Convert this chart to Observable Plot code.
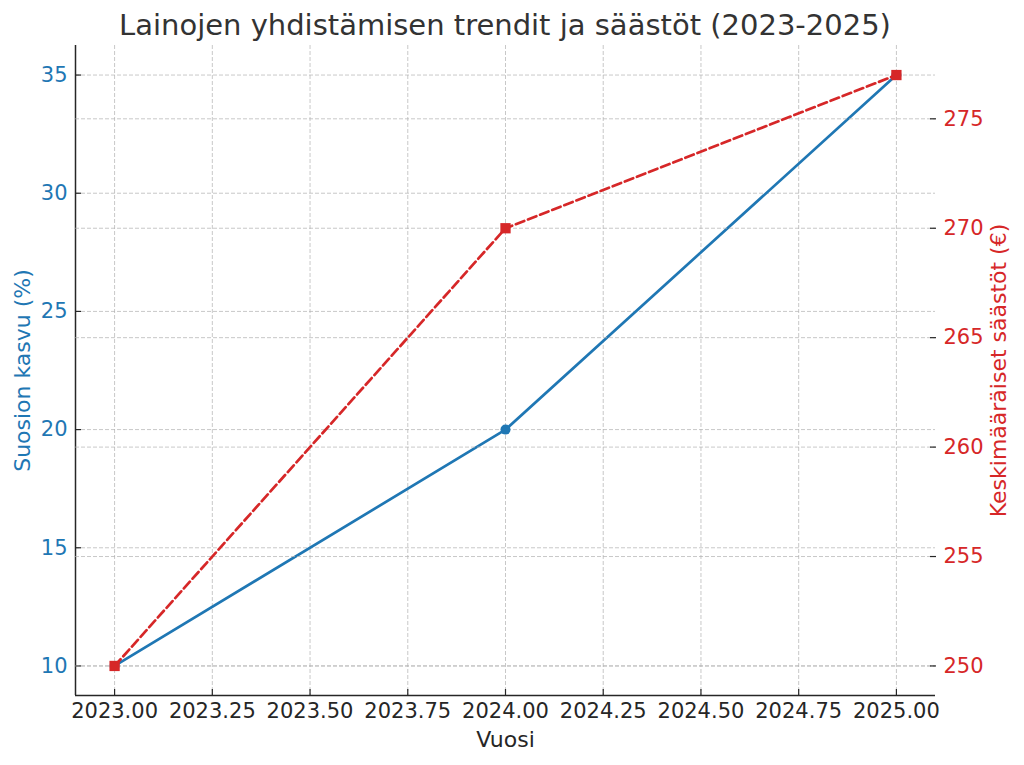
<!DOCTYPE html>
<html>
<head>
<meta charset="utf-8">
<script src="https://cdn.jsdelivr.net/npm/d3@7"></script>
<script src="https://cdn.jsdelivr.net/npm/@observablehq/plot@0.6"></script>
<style>
  html, body { margin: 0; padding: 0; background: #fff; }
  body { width: 1024px; height: 765px; overflow: hidden; font-family: "DejaVu Sans", sans-serif; }
  #title { position: absolute; left: 75px; width: 860px; top: 0; height: 40px; line-height: 51px; text-align: center; font-size: 29px; color: #333; white-space: nowrap; }
  #wrap { position: absolute; left: 0; top: 40px; width: 1024px; height: 725px; }
  #wrap svg { position: absolute; left: 0; top: 0; }
</style>
</head>
<body>
<div id="title">Lainojen yhdistämisen trendit ja säästöt (2023-2025)</div>
<div id="wrap"></div>
<script>
// ---- data ----
const years = [2023, 2024, 2025];
const growth = [10, 20, 35];          // Suosion kasvu (%)
const savings = [250, 270, 277];      // Keskimääräiset säästöt (€)
const xTicks = [2023, 2023.25, 2023.5, 2023.75, 2024, 2024.25, 2024.5, 2024.75, 2025];
const leftTicks = [10, 15, 20, 25, 30, 35];
const rightTicks = [250, 255, 260, 265, 270, 275];

const xLabel = "Vuosi";
const leftLabel = "Suosion kasvu (%)";
const rightLabel = "Keskimääräiset säästöt (€)";

const blue = "#1f77b4", red = "#d62728", ink = "#262626";

const rows = years.map((y, i) => ({year: y, growth: growth[i], savings: savings[i]}));

function pad(arr) {
  const [a, b] = d3.extent(arr);
  const m = (b - a) * 0.05;
  return [a - m, b + m];
}
const xDom = pad(years), yL = pad(growth), yR = pad(savings);

const W = 1024, H = 725;
const margins = {marginLeft: 75, marginRight: 89, marginTop: 5, marginBottom: 70};
const style = {fontFamily: "DejaVu Sans", fontSize: "21px", background: "transparent", overflow: "visible"};
const grid = {stroke: "#b0b0b0", strokeOpacity: 0.7, strokeDasharray: "4,2", strokeWidth: 1};

const p1 = Plot.plot({
  width: W, height: H, ...margins, style,
  x: {domain: xDom, label: null},
  y: {domain: yL, label: null},
  marks: [
    Plot.gridX(xTicks, grid),
    Plot.gridY(leftTicks, grid),
    // inward ticks
    Plot.axisX(xTicks, {tickSize: 6, dy: -6, tickFormat: () => "", stroke: ink, strokeWidth: 1.2, label: null}),
    Plot.axisX(xTicks, {tickSize: 0, tickPadding: 8, tickFormat: d3.format(".2f"), fill: ink, fontSize: 21, label: null}),
    Plot.axisY(leftTicks, {anchor: "left", tickSize: 6, dx: 6, tickFormat: () => "", stroke: ink, strokeWidth: 1.2, label: null}),
    Plot.axisY(leftTicks, {anchor: "left", tickSize: 0, tickPadding: 8, fill: blue, fontSize: 21, label: null}),
    // spines
    Plot.ruleX([xDom[0]], {stroke: ink, strokeWidth: 1.5}),
    Plot.ruleY([yL[0]], {stroke: ink, strokeWidth: 1.5}),
    // series
    Plot.line(rows, {x: "year", y: "growth", stroke: blue, strokeWidth: 2.7}),
    Plot.dot(rows, {x: "year", y: "growth", fill: blue, r: 5}),
    // axis titles
    Plot.text([xLabel], {frameAnchor: "bottom", dy: 51, text: d => d, fill: ink, fontSize: 22}),
    Plot.text([leftLabel], {frameAnchor: "left", textAnchor: "middle", dx: -53, rotate: -90, text: d => d, fill: blue, fontSize: 22})
  ]
});

const p2 = Plot.plot({
  width: W, height: H, ...margins, style,
  x: {domain: xDom, label: null, axis: null},
  y: {domain: yR, label: null, axis: null},
  marks: [
    Plot.gridY(rightTicks, grid),
    Plot.axisY(rightTicks, {anchor: "right", tickSize: 6, dx: -6, tickFormat: () => "", stroke: ink, strokeWidth: 1.2, label: null}),
    Plot.axisY(rightTicks, {anchor: "right", tickSize: 0, tickPadding: 8, fill: red, fontSize: 21, label: null}),
    Plot.line(rows, {x: "year", y: "savings", stroke: red, strokeWidth: 2.7, strokeDasharray: "9,4"}),
    Plot.dot(rows, {x: "year", y: "savings", fill: red, symbol: "square", r: 5.8}),
    Plot.text([rightLabel], {frameAnchor: "right", textAnchor: "middle", dx: 63, rotate: -90, text: d => d, fill: red, fontSize: 22})
  ]
});

const wrap = document.getElementById("wrap");
wrap.appendChild(p1);
wrap.appendChild(p2);
</script>
</body>
</html>
